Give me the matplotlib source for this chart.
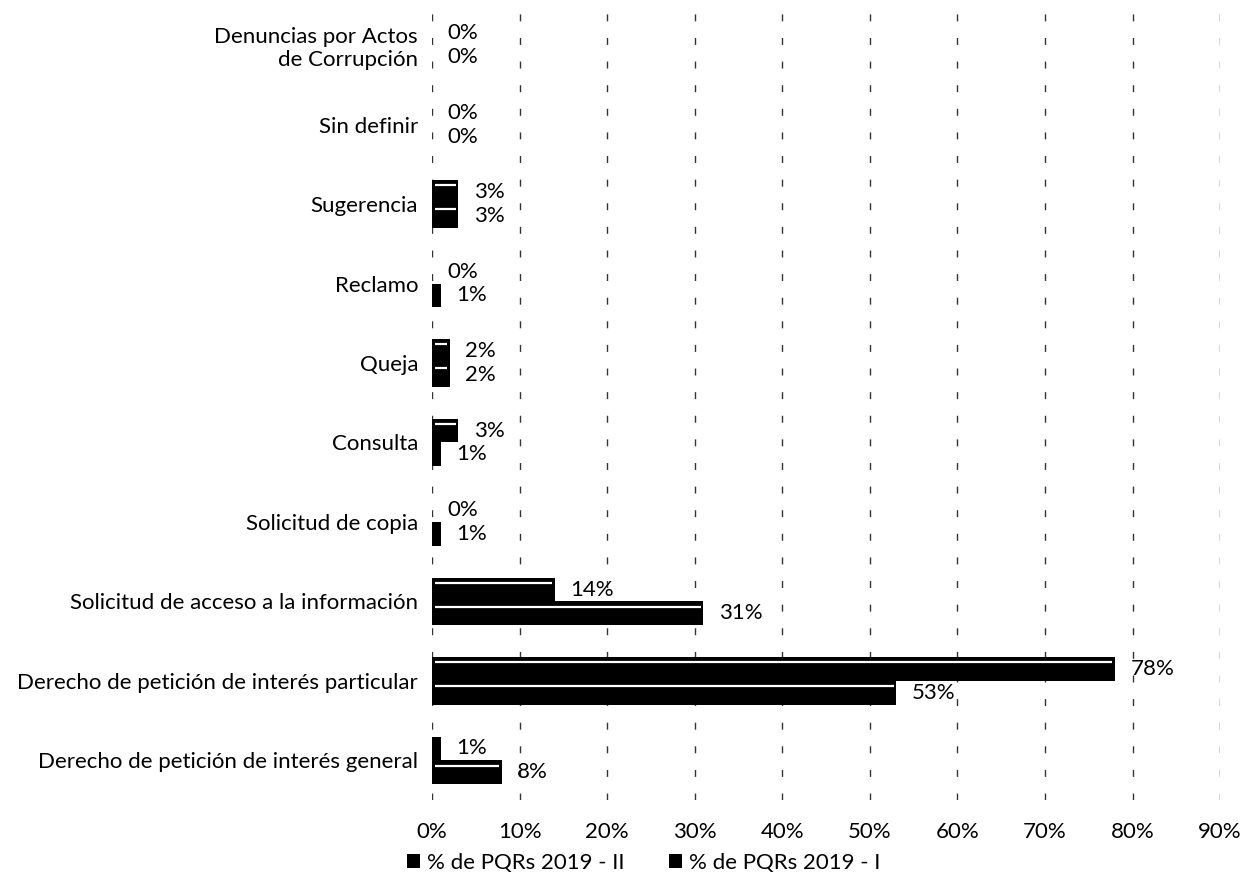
import matplotlib.pyplot as plt
import numpy as np

plt.rcParams['font.family'] = ['Lato', 'DejaVu Sans']

# categories from top to bottom as shown
categorias = ['Denuncias por Actos\nde Corrupción', 'Sin definir', 'Sugerencia', 'Reclamo', 'Queja',
              'Consulta', 'Solicitud de copia', 'Solicitud de acceso a la información',
              'Derecho de petición de interés particular', 'Derecho de petición de interés general']
pqrs_2019_ii = [0, 0, 3, 0, 2, 3, 0, 14, 78, 1]
pqrs_2019_i = [0, 0, 3, 1, 2, 1, 1, 31, 53, 8]
ticks = [0, 10, 20, 30, 40, 50, 60, 70, 80, 90]

fs = 16

fig = plt.figure(figsize=(12.54, 8.94), dpi=100)
ax = fig.add_axes([0.3445, 0.105, 0.6285, 0.889])

y = np.arange(len(categorias))
h = 0.3

bars_ii = ax.barh(y - h / 2, pqrs_2019_ii, height=h, color='black', label='% de PQRs 2019 - II')
bars_i = ax.barh(y + h / 2, pqrs_2019_i, height=h, color='black', label='% de PQRs 2019 - I')

# thin light stripe near the top of each bar
for bars, vals in [(bars_ii, pqrs_2019_ii), (bars_i, pqrs_2019_i)]:
    for b, v in zip(bars, vals):
        if v >= 2:
            yy = b.get_y() + b.get_height() * 0.22
            ax.plot([0.3, v - 0.3], [yy, yy], color='white', lw=1.6, solid_capstyle='butt', zorder=3)
    for b, v in zip(bars, vals):
        ax.annotate(f'{v}%', (v, b.get_y() + b.get_height() / 2), xytext=(11, 0),
                    textcoords='offset points', va='center', ha='left', fontsize=fs)

ax.set_yticks(y)
ax.set_yticklabels(categorias, fontsize=fs)
ax.set_ylim(len(categorias) - 0.5, -0.5)
ax.set_xlim(0, 90)
ax.set_xticks(ticks)
ax.set_xticklabels([f'{t}%' for t in ticks], fontsize=fs)
ax.tick_params(length=0, pad=16)
ax.tick_params(axis='y', pad=10)
for s in ax.spines.values():
    s.set_visible(False)
ax.set_axisbelow(True)
ax.xaxis.grid(True, color='#333333', linestyle=(0, (5, 12)), linewidth=1.0)

ax.legend(loc='center', bbox_to_anchor=(0.268, -0.079), ncol=2, frameon=False, fontsize=fs,
          handlelength=0.6, handleheight=0.6, columnspacing=2.0, handletextpad=0.3)

plt.savefig('out.png', dpi=100)
